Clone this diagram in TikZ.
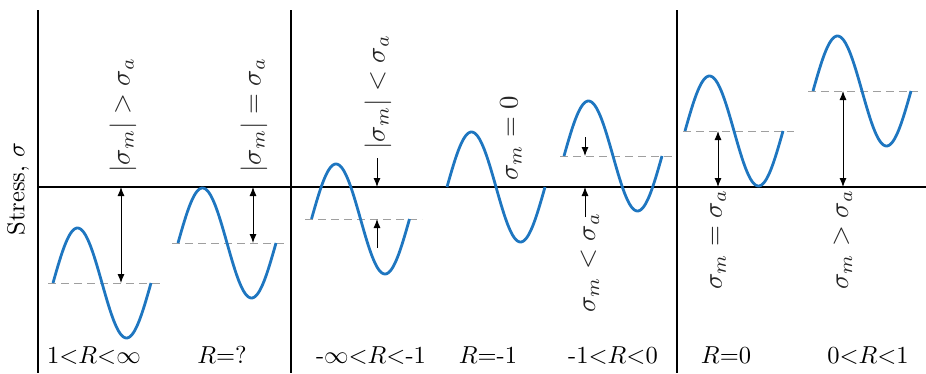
\documentclass[tikz,border=0pt]{standalone}
\usetikzlibrary{arrows.meta}
\definecolor{waveblue}{RGB}{30,118,192}
\begin{document}
\begin{tikzpicture}[x=1pt,y=-1pt,
  wave/.style={waveblue, line width=2.8pt},
  meanline/.style={gray!75, line width=1pt, dash pattern=on 8pt off 5pt},
  axisline/.style={black, line width=1.8pt},
  dimone/.style={black, line width=0.9pt, -{Latex[length=9pt,width=7pt]}},
  dimboth/.style={black, line width=0.9pt, {Latex[length=9pt,width=7pt]}-{Latex[length=9pt,width=7pt]}},
  rlabel/.style={rotate=90, anchor=west, inner sep=0pt, text=black!85, scale=2.68},
  blabel/.style={anchor=base, inner sep=0pt, scale=2.45},
]
\useasboundingbox (0,0) rectangle (926,373);

% frame lines
\coordinate (v1t) at (38,10);  \coordinate (v1b) at (38,373);
\coordinate (v2t) at (291,10); \coordinate (v2b) at (291,373);
\coordinate (v3t) at (677,10); \coordinate (v3b) at (677,373);
\coordinate (axl) at (38,187); \coordinate (axr) at (926,187);
\draw[axisline] (v1t) -- (v1b);
\draw[axisline] (v2t) -- (v2b);
\draw[axisline] (v3t) -- (v3b);
\draw[axisline] (axl) -- (axr);

\node[rotate=90, inner sep=0pt, scale=2.45] (ylab) at (18,189) {Stress, $\sigma$};

% mean lines
\coordinate (m1a) at (48,283);  \coordinate (m1b) at (162,283);
\coordinate (m2a) at (172,243); \coordinate (m2b) at (286,243);
\coordinate (m3a) at (305,219); \coordinate (m3b) at (422,219);
\coordinate (m5a) at (560,156); \coordinate (m5b) at (673,156);
\coordinate (m6a) at (683,131); \coordinate (m6b) at (794,131);
\coordinate (m7a) at (808,91);  \coordinate (m7b) at (918,91);
\draw[meanline] (m1a) -- (m1b);
\draw[meanline] (m2a) -- (m2b);
\draw[meanline] (m3a) -- (m3b);
\draw[meanline] (m5a) -- (m5b);
\draw[meanline] (m6a) -- (m6b);
\draw[meanline] (m7a) -- (m7b);

% waves
\draw[wave] plot[domain=0:98, samples=80, smooth] ({53+\x},{283-55*sin(3.67347*\x)});
\draw[wave] plot[domain=0:98, samples=80, smooth] ({178+\x},{243-55*sin(3.67347*\x)});
\draw[wave] plot[domain=0:98, samples=80, smooth] ({311.5+\x},{219-55*sin(3.67347*\x)});
\draw[wave] plot[domain=0:98, samples=80, smooth] ({447+\x},{187-55*sin(3.67347*\x)});
\draw[wave] plot[domain=0:98, samples=80, smooth] ({564+\x},{156-55*sin(3.67347*\x)});
\draw[wave] plot[domain=0:98, samples=80, smooth] ({685+\x},{131-55*sin(3.67347*\x)});
\draw[wave] plot[domain=0:98, samples=80, smooth] ({813+\x},{91-55*sin(3.67347*\x)});

% arrows
\coordinate (a1t) at (121,187); \coordinate (a1b) at (121,283);
\draw[dimboth] (a1t) -- (a1b);
\coordinate (a2t) at (253,187); \coordinate (a2b) at (253,243);
\draw[dimboth] (a2t) -- (a2b);
\coordinate (a3s) at (377,158); \coordinate (a3e) at (377,187);
\coordinate (a3u) at (377,248); \coordinate (a3m) at (377,219);
\draw[dimone] (a3s) -- (a3e);
\draw[dimone] (a3u) -- (a3m);
\coordinate (a5s) at (585,137); \coordinate (a5e) at (585,156);
\coordinate (a5u) at (585,217); \coordinate (a5m) at (585,187);
\draw[dimone] (a5s) -- (a5e);
\draw[dimone] (a5u) -- (a5m);
\coordinate (a6t) at (718,131); \coordinate (a6b) at (718,187);
\draw[dimboth] (a6t) -- (a6b);
\coordinate (a7t) at (843,91); \coordinate (a7b) at (843,187);
\draw[dimboth] (a7t) -- (a7b);

% rotated labels
\node[rlabel] (r1) at (123,173) {$|\sigma_m| > \sigma_a$};
\node[rlabel] (r2) at (254,173) {$|\sigma_m| = \sigma_a$};
\node[rlabel] (r3) at (378,150) {$|\sigma_m| < \sigma_a$};
\node[rlabel] (r4) at (511,181) {$\sigma_m = 0$};
\node[rlabel] (r5) at (590,313) {$\sigma_m < \sigma_a$};
\node[rlabel] (r6) at (718,290) {$\sigma_m = \sigma_a$};
\node[rlabel] (r7) at (843,290) {$\sigma_m > \sigma_a$};

% bottom labels
\node[blabel] (b1) at (94,363)  {$1{<}R{<}\infty$};
\node[blabel] (b2) at (222,363) {$R{=}?$};
\node[blabel] (b3) at (371,363) {-$\infty{<}R{<}$-1};
\node[blabel] (b4) at (488,363) {$R{=}$-1};
\node[blabel] (b5) at (613,363) {-1$<$$R$$<$0};
\node[blabel] (b6) at (726,363) {$R{=}0$};
\node[blabel] (b7) at (868,363) {$0{<}R{<}1$};
\end{tikzpicture}
\end{document}
